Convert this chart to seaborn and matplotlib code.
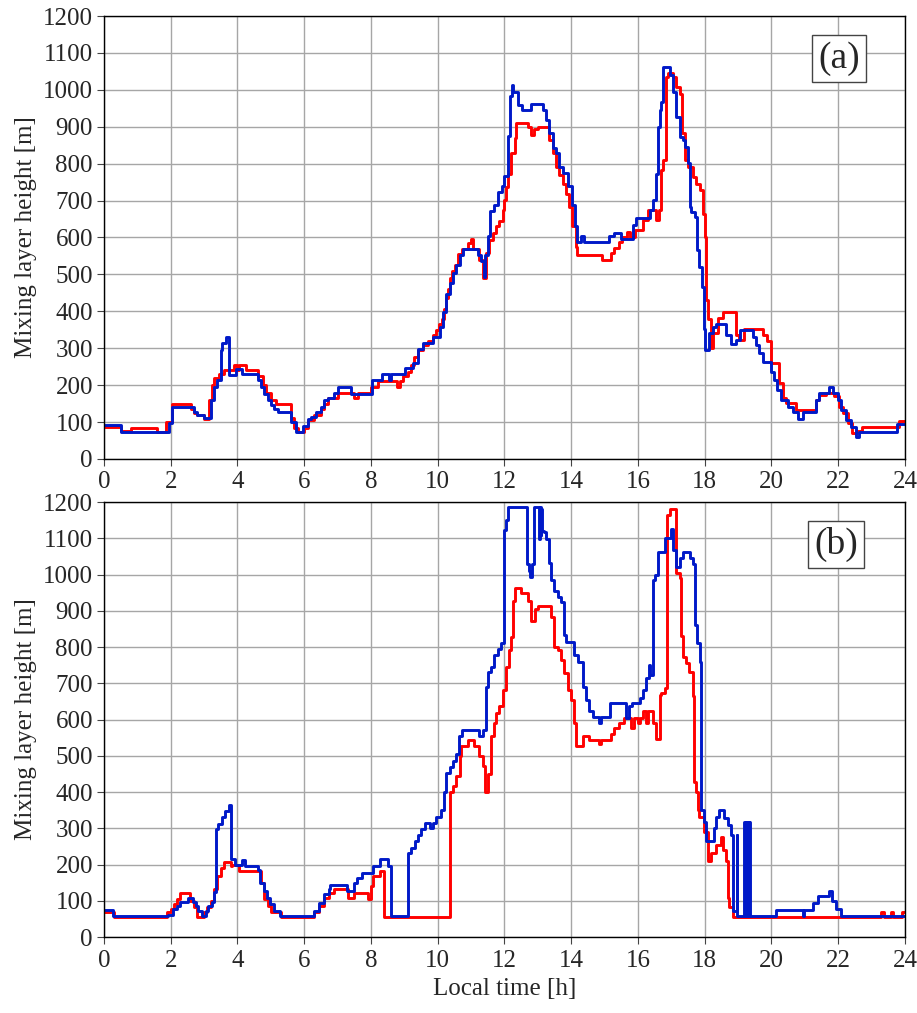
import matplotlib
matplotlib.use("Agg")
import matplotlib.pyplot as plt
import seaborn as sns

# ==========================================================
# DATA  (step series: time of change [h], mixing layer height [m])
# ==========================================================

time_a_red = [0.0, 0.5, 0.8, 1.6, 1.85, 2.05, 2.6, 2.7, 2.8, 3.0, 3.15, 3.25, 3.3, 3.45,
              3.6, 3.9, 4.0, 4.05, 4.25, 4.6, 4.75, 4.85, 5.0, 5.15, 5.6, 5.7, 5.8, 6.0,
              6.1, 6.3, 6.5, 6.6, 6.7, 7.0, 7.5, 7.6, 8.0, 8.2, 8.77, 8.87, 8.97, 9.1,
              9.2, 9.3, 9.4, 9.55, 9.7, 9.85, 9.95, 10.05, 10.12, 10.19, 10.25, 10.32,
              10.37, 10.44, 10.52, 10.62, 10.72, 10.92, 11.0, 11.05, 11.25, 11.35, 11.45,
              11.55, 11.65, 11.75, 11.85, 11.95, 12.0, 12.05, 12.1, 12.2, 12.3, 12.34,
              12.69, 12.79, 12.89, 12.99, 13.34, 13.44, 13.54, 13.64, 13.74, 13.84, 13.93,
              14.03, 14.13, 14.18, 14.93, 15.18, 15.28, 15.43, 15.53, 15.67, 15.77, 15.9,
              16.15, 16.3, 16.55, 16.63, 16.7, 16.75, 16.85, 16.9, 17.05, 17.15, 17.25,
              17.32, 17.4, 17.5, 17.65, 17.75, 17.85, 17.95, 18.0, 18.03, 18.1, 18.19,
              18.26, 18.39, 18.54, 18.94, 19.04, 19.19, 19.74, 19.88, 19.98, 20.23, 20.33,
              20.43, 20.73, 21.33, 21.43, 21.63, 21.88, 22.03, 22.13, 22.28, 22.42, 22.57,
              22.72, 23.82, 24.0]
mlh_a_red = [88, 75, 85, 72, 100, 148, 135, 125, 118, 108, 160, 200, 220, 230,
             242, 255, 240, 255, 240, 225, 200, 180, 160, 148, 110, 85, 72, 85,
             105, 120, 135, 150, 165, 180, 165, 178, 195, 210, 195, 210, 225, 235,
             255, 275, 295, 310, 320, 335, 350, 365, 380, 405, 435, 460,
             490, 510, 525, 555, 570, 585, 595, 570, 540, 490, 557,
             593, 611, 630, 644, 674, 701, 737, 773, 828, 869, 909,
             900, 877, 895, 898, 863, 828, 792, 769, 746, 719, 683,
             630, 575, 552, 539, 557, 571, 589, 602, 616, 602, 620,
             647, 674, 647, 674, 783, 810, 1036, 1045, 1036, 1008, 990,
             883, 810, 792, 764, 746, 728, 665, 602, 430, 380, 300,
             341, 382, 397, 337, 321, 352, 337, 319, 260, 206, 165,
             151, 133, 160, 174, 180, 170, 142, 124, 97, 70, 77,
             88, 102, 102]

time_a_blue = [0.0, 0.5, 1.95, 2.05, 2.7, 2.8, 3.0, 3.2, 3.3, 3.4, 3.5, 3.55, 3.65, 3.75,
               3.95, 4.15, 4.6, 4.7, 4.8, 4.9, 5.0, 5.1, 5.2, 5.6, 5.75, 5.95, 6.1, 6.2,
               6.35, 6.5, 6.6, 6.7, 6.9, 7.0, 7.4, 8.02, 8.32, 8.55, 8.6, 9.02, 9.27, 9.41,
               9.56, 9.86, 10.06, 10.16, 10.26, 10.36, 10.46, 10.56, 10.66, 10.76, 11.2,
               11.3, 11.38, 11.42, 11.52, 11.58, 11.7, 11.8, 11.92, 12.0, 12.1, 12.16,
               12.22, 12.27, 12.4, 12.53, 12.79, 13.14, 13.24, 13.34, 13.44, 13.54, 13.64,
               13.74, 13.91, 14.01, 14.11, 14.18, 14.28, 14.38, 15.13, 15.28, 15.48, 15.85,
               15.95, 16.35, 16.45, 16.53, 16.6, 16.65, 16.7, 16.75, 16.95, 17.05, 17.15,
               17.25, 17.35, 17.42, 17.5, 17.55, 17.6, 17.7, 17.77, 17.84, 17.91, 17.97,
               18.01, 18.12, 18.24, 18.34, 18.64, 18.79, 18.94, 19.06, 19.44, 19.54, 19.64,
               19.74, 19.98, 20.08, 20.18, 20.28, 20.48, 20.63, 20.78, 20.93, 21.33, 21.43,
               21.73, 21.83, 21.98, 22.08, 22.23, 22.38, 22.53, 22.63, 23.77, 24.0]
mlh_a_blue = [92, 74, 97, 142, 128, 119, 110, 160, 196, 214, 295, 313, 331, 227,
              245, 229, 214, 194, 177, 160, 145, 136, 127, 100, 74, 89, 107, 115,
              127, 142, 160, 164, 180, 194, 177, 213, 231, 214, 231, 246, 260, 299,
              313, 331, 358, 398, 447, 478, 503, 526, 553, 568, 553,
              535, 494, 553, 603, 673, 689, 722, 739, 766, 874, 982,
              1014, 995, 959, 946, 962, 946, 919, 883, 842, 828, 792,
              776, 739, 689, 630, 588, 603, 588, 603, 613, 597, 634,
              652, 674, 701, 773, 900, 945, 968, 1061, 1040, 995, 927,
              873, 864, 846, 801, 683, 670, 656, 566, 521, 467, 352,
              295, 341, 358, 366, 335, 311, 321, 349, 331, 309, 286,
              263, 235, 214, 187, 159, 141, 127, 109, 127, 159, 178,
              196, 178, 159, 132, 105, 87, 60, 73, 94, 94]

time_b_red = [0.0, 0.3, 1.9, 2.0, 2.1, 2.2, 2.28, 2.58, 2.7, 2.8, 3.0, 3.1, 3.2, 3.3,
              3.4, 3.5, 3.6, 3.8, 3.85, 4.05, 4.7, 4.8, 4.9, 5.0, 5.3, 6.3, 6.45, 6.6,
              6.75, 6.9, 7.3, 7.5, 7.92, 8.0, 8.07, 8.27, 8.4, 10.36, 10.46, 10.56,
              10.66, 10.71, 10.91, 11.1, 11.25, 11.35, 11.42, 11.5, 11.6, 11.7, 11.75,
              11.85, 11.95, 12.05, 12.13, 12.2, 12.25, 12.3, 12.5, 12.7, 12.8, 12.9, 13.0,
              13.39, 13.49, 13.59, 13.69, 13.79, 13.89, 13.99, 14.07, 14.14, 14.34, 14.54,
              14.84, 14.89, 15.18, 15.28, 15.43, 15.58, 15.78, 15.88, 16.0, 16.05, 16.15,
              16.25, 16.3, 16.45, 16.55, 16.65, 16.7, 16.8, 16.87, 16.97, 17.13, 17.25,
              17.3, 17.35, 17.44, 17.54, 17.64, 17.69, 17.74, 17.79, 17.84, 17.99, 18.09,
              18.19, 18.34, 18.49, 18.56, 18.64, 18.69, 18.74, 18.84, 23.27, 23.37, 23.57,
              23.64, 23.92, 24.0]
mlh_b_red = [70, 55, 68, 77, 91, 104, 122, 100, 82, 55, 68, 82, 100, 132,
             168, 190, 208, 195, 199, 181, 150, 105, 86, 68, 55, 68, 86, 109,
             122, 133, 109, 121, 105, 141, 168, 182, 55, 400, 418, 445,
             500, 527, 544, 527, 500, 473, 400, 450, 555, 591, 618,
             636, 682, 745, 791, 827, 927, 964, 950, 927, 873, 905, 914,
             882, 800, 791, 764, 727, 682, 655, 591, 527, 555, 544,
             532, 544, 559, 577, 591, 605, 577, 605, 591, 605, 623,
             591, 623, 591, 545, 668, 673, 686, 1165, 1180, 1005, 990,
             830, 773, 755, 732, 664, 427, 400, 350, 332, 291, 209,
             232, 255, 277, 241, 209, 109, 82, 55, 68, 55,
             68, 55, 68, 68]

time_b_blue = [0.0, 0.28, 1.93, 2.08, 2.18, 2.28, 2.53, 2.68, 2.75, 2.83, 2.93, 3.05, 3.13,
               3.23, 3.31, 3.35, 3.43, 3.53, 3.63, 3.75, 3.81, 3.93, 4.13, 4.23, 4.61, 4.68,
               4.78, 4.88, 4.98, 5.08, 5.28, 6.28, 6.43, 6.58, 6.73, 6.78, 7.28, 7.48, 7.58,
               7.73, 8.07, 8.27, 8.52, 8.6, 9.11, 9.21, 9.31, 9.41, 9.51, 9.61, 9.76, 9.86,
               9.96, 10.11, 10.19, 10.26, 10.36, 10.46, 10.56, 10.64, 10.73, 11.25, 11.35,
               11.45, 11.5, 11.6, 11.7, 11.8, 11.9, 11.98, 12.05, 12.1, 12.67, 12.72, 12.77,
               12.83, 12.88, 13.02, 13.05, 13.08, 13.1, 13.13, 13.17, 13.24, 13.34, 13.39,
               13.49, 13.59, 13.69, 13.77, 13.84, 14.09, 14.19, 14.34, 14.44, 14.54, 14.64,
               14.84, 14.89, 15.16, 15.63, 15.73, 15.83, 16.05, 16.15, 16.25, 16.33, 16.37,
               16.45, 16.5, 16.6, 16.8, 17.0, 17.05, 17.15, 17.25, 17.35, 17.55, 17.65,
               17.72, 17.78, 17.85, 17.9, 17.99, 18.04, 18.29, 18.34, 18.44, 18.59, 18.69,
               18.79, 18.86, 18.96, 18.98, 19.19, 19.22, 19.24, 19.27, 19.29, 19.32, 19.34,
               19.37, 20.13, 20.93, 20.98, 21.23, 21.38, 21.73, 21.81, 21.93, 22.08, 24.0]
mlh_b_blue = [75, 58, 61, 76, 86, 97, 109, 97, 85, 73, 58, 73, 86,
              97, 123, 298, 313, 330, 348, 365, 214, 199, 213, 196, 184, 150,
              127, 109, 91, 73, 58, 73, 95, 118, 132, 143, 127, 150, 163,
              177, 195, 214, 195, 59, 232, 245, 264, 282, 298, 314, 302, 314,
              332, 350, 400, 452, 468, 486, 505, 555, 571, 555, 571,
              691, 732, 745, 777, 795, 811, 1123, 1150, 1185, 1030, 1011, 993,
              1030, 1185, 1097, 1185, 1110, 1180, 1120, 1118, 1099, 1031, 986,
              955, 937, 923, 832, 814, 777, 759, 691, 655, 623, 607,
              591, 607, 645, 605, 636, 645, 659, 682, 714, 750, 723,
              986, 1000, 1062, 1100, 1125, 1068, 1020, 1045, 1062, 1045, 1030,
              860, 810, 760, 350, 318, 264, 300, 332, 350, 327, 309,
              282, 73, 282, 59, 318, 59, 318, 59, 318, 59, 318,
              59, 75, 59, 75, 95, 114, 127, 100, 77, 59, 59]

panel_labels = ["(a)", "(b)"]
x_ticks = list(range(0, 25, 2))
y_ticks = list(range(0, 1201, 100))

RED = "#ff0000"
BLUE = "#0019c8"

# ==========================================================
# STYLE
# ==========================================================

sns.set_style("whitegrid")
plt.rcParams["font.family"] = ["Liberation Serif", "DejaVu Serif"]

fig = plt.figure(figsize=(9.17, 10.13), dpi=100)
ax_a = fig.add_axes([0.1134, 0.5469, 0.8735, 0.4373])
ax_b = fig.add_axes([0.1134, 0.0750, 0.8735, 0.4294])

series = [
    (ax_a, time_a_red, mlh_a_red, time_a_blue, mlh_a_blue, panel_labels[0], (0.9176, 0.904)),
    (ax_b, time_b_red, mlh_b_red, time_b_blue, mlh_b_blue, panel_labels[1], (0.914, 0.902)),
]

for ax, t_r, h_r, t_b, h_b, label, pos in series:
    sns.lineplot(x=t_r, y=h_r, ax=ax, color=RED, lw=2.1,
                 drawstyle="steps-post", estimator=None)
    sns.lineplot(x=t_b, y=h_b, ax=ax, color=BLUE, lw=2.1,
                 drawstyle="steps-post", estimator=None)

    ax.set_xlim(0, 24)
    ax.set_ylim(0, 1200)
    ax.set_xticks(x_ticks)
    ax.set_yticks(y_ticks)
    ax.grid(True, color="#a6a6a6", lw=1.0)
    ax.set_axisbelow(True)
    for sp in ax.spines.values():
        sp.set_color("black")
        sp.set_linewidth(1.0)
    ax.tick_params(axis="both", which="major", direction="out", length=5,
                   width=0.8, color="#444444", labelsize=18,
                   bottom=True, left=True)
    ax.tick_params(axis="x", pad=4)
    ax.tick_params(axis="y", pad=3)
    ax.set_ylabel("Mixing layer height [m]", fontsize=18, labelpad=4)

    ax.text(pos[0], pos[1], label, transform=ax.transAxes, fontsize=27,
            ha="center", va="center",
            bbox=dict(boxstyle="square,pad=0.16", fc="white", ec="#444444", lw=1.0))

ax_a.set_xlabel("")
ax_b.set_xlabel("Local time [h]", fontsize=18, labelpad=5)

fig.savefig("out.png", dpi=100)
